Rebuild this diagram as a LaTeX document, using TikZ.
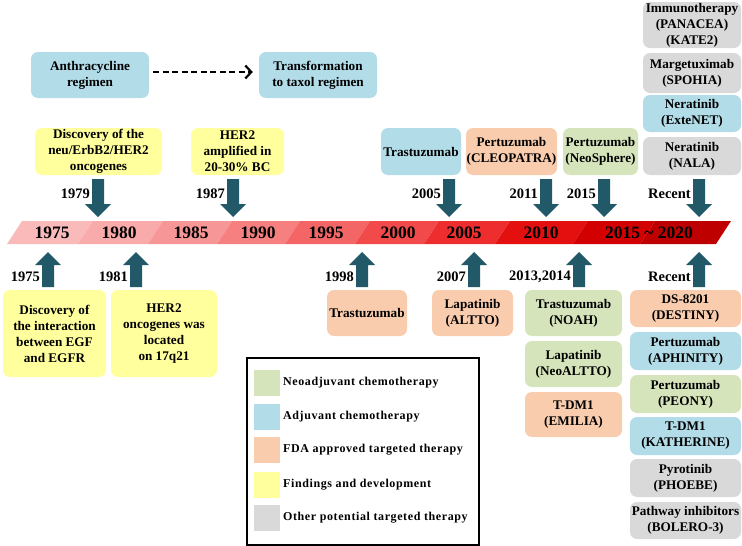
\documentclass[tikz,border=0pt]{standalone}
\usepackage{fontspec}
\setmainfont{Liberation Serif}
\newfontfamily\legfont[LetterSpace=5]{Liberation Serif}
\usetikzlibrary{arrows.meta}

\definecolor{boxblue}{RGB}{178,220,232}
\definecolor{boxyellow}{RGB}{255,255,158}
\definecolor{boxorange}{RGB}{249,204,174}
\definecolor{boxgreen}{RGB}{214,228,188}
\definecolor{boxgray}{RGB}{217,217,217}
\definecolor{arrowteal}{RGB}{33,89,104}
\definecolor{seg1}{RGB}{250,186,186}
\definecolor{seg2}{RGB}{249,170,170}
\definecolor{seg3}{RGB}{247,150,150}
\definecolor{seg4}{RGB}{246,128,128}
\definecolor{seg5}{RGB}{244,102,102}
\definecolor{seg6}{RGB}{242,74,74}
\definecolor{seg7}{RGB}{238,46,46}
\definecolor{seg8}{RGB}{228,16,16}
\definecolor{seg9}{RGB}{210,0,0}
\definecolor{seg10}{RGB}{190,0,0}

\begin{document}
\begin{tikzpicture}[x=1pt,y=-1pt,
  box/.style={rounded corners=7pt,align=center,inner sep=0pt,
    font=\fontsize{13.2}{16}\selectfont\bfseries},
  yearlbl/.style={inner sep=0pt,font=\fontsize{17.5}{20}\selectfont\bfseries},
  datelbl/.style={inner sep=0pt,anchor=east,font=\fontsize{14.5}{17}\selectfont\bfseries},
  legtext/.style={inner sep=0pt,anchor=west,font=\legfont\fontsize{12}{14}\selectfont\bfseries}]
  \useasboundingbox (0,0) rectangle (742,546);

  % top: regimen change
  \node[box,fill=boxblue,minimum width=118pt,minimum height=46pt] (anth) at (90,75) {Anthracycline\\regimen};
  \node[box,fill=boxblue,minimum width=118pt,minimum height=46pt] (taxol) at (318,75) {Transformation\\to taxol regimen};
  \draw[line width=2.2pt,dash pattern=on 6pt off 3.5pt,-{Straight Barb[length=6pt,width=13pt,line width=2.2pt]},
    shorten <=4pt,shorten >=6pt] ([yshift=3pt]anth.east) -- ([yshift=3pt]taxol.west);

  % boxes above the timeline
  \node[box,fill=boxyellow,minimum width=127pt,minimum height=47pt] (neu) at (98.5,151.5) {Discovery of the\\neu/ErbB2/HER2\\oncogenes};
  \node[box,fill=boxyellow,minimum width=93pt,minimum height=47pt] (ampl) at (237.5,151.5) {HER2\\amplified in\\20-30\% BC};
  \node[box,fill=boxblue,minimum width=80pt,minimum height=47pt] (trastA) at (421,151.5) {Trastuzumab};
  \node[box,fill=boxorange,minimum width=91pt,minimum height=47pt] (cleo) at (511.5,151.5) {Pertuzumab\\(CLEOPATRA)};
  \node[box,fill=boxgreen,minimum width=75pt,minimum height=47pt] (neosph) at (600.5,151.5) {Pertuzumab\\(NeoSphere)};
  \node[box,fill=boxgray,minimum width=98pt,minimum height=46pt] (immuno) at (692,25) {Immunotherapy\\(PANACEA)\\(KATE2)};
  \node[box,fill=boxgray,minimum width=98pt,minimum height=40pt] (marge) at (692,73) {Margetuximab\\(SPOHIA)};
  \node[box,fill=boxblue,minimum width=98pt,minimum height=37pt] (extenet) at (692,113.5) {Neratinib\\(ExteNET)};
  \node[box,fill=boxgray,minimum width=98pt,minimum height=38pt] (nala) at (692,156) {Neratinib\\(NALA)};

  % timeline band
  \foreach \a/\b [count=\i] in {7/78,78/148,148/217,217/285,285/355,355/424,424/495,495/573,573/640,640/716}
    \fill[seg\i] (\a,244) -- (\b,244) -- (\b+15,221) -- (\a+15,221) -- cycle;
  \foreach \x/\yr [count=\i] in {52/1975,119/1980,191/1985,258/1990,326/1995,398/2000,464/2005,541/2010}
    \node[yearlbl] (yr\i) at (\x,233) {\yr};
  \node[yearlbl] (yr9) at (649,233) {2015 \char"7E{} 2020};

  % arrows down to the timeline
  \foreach \x/\yr [count=\i] in {98/1979,233/1987,449/2005,546/2011,604/2015,699/Recent} {
    \fill[arrowteal] (\x-6,179) -- (\x+6,179) -- (\x+6,204) -- (\x+13,204) -- (\x,217) -- (\x-13,204) -- (\x-6,204) -- cycle;
    \node[datelbl] (dn\i) at (\x-8,194) {\yr};
  }
  % arrows up from the boxes
  \foreach \x/\yr [count=\i] in {48/1975,136/1981,362/1998,474/2007,579/{2013,2014},699/Recent} {
    \fill[arrowteal] (\x-6,287) -- (\x+6,287) -- (\x+6,265) -- (\x+13,265) -- (\x,252) -- (\x-13,265) -- (\x-6,265) -- cycle;
    \node[datelbl] (up\i) at (\x-8,277) {\yr};
  }

  % boxes below the timeline
  \node[box,fill=boxyellow,minimum width=103pt,minimum height=87pt] (egf) at (54.5,333.5) {Discovery of\\the interaction\\between EGF\\and EGFR};
  \node[box,fill=boxyellow,minimum width=106pt,minimum height=87pt] (loc) at (164,333.5) {HER2\\oncogenes was\\located\\on 17q21};
  \node[box,fill=boxorange,minimum width=80pt,minimum height=46pt] (trastB) at (367,313) {Trastuzumab};
  \node[box,fill=boxorange,minimum width=81pt,minimum height=46pt] (altto) at (472.5,313) {Lapatinib\\(ALTTO)};
  \node[box,fill=boxgreen,minimum width=97pt,minimum height=46pt] (noah) at (573.5,313) {Trastuzumab\\(NOAH)};
  \node[box,fill=boxgreen,minimum width=97pt,minimum height=46pt] (neoaltto) at (573.5,364) {Lapatinib\\(NeoALTTO)};
  \node[box,fill=boxorange,minimum width=97pt,minimum height=45pt] (emilia) at (573.5,414.5) {T-DM1\\(EMILIA)};
  \node[box,fill=boxorange,minimum width=111pt,minimum height=37pt] (destiny) at (685.5,308.5) {DS-8201\\(DESTINY)};
  \node[box,fill=boxblue,minimum width=111pt,minimum height=38pt] (aphinity) at (685.5,351) {Pertuzumab\\(APHINITY)};
  \node[box,fill=boxgreen,minimum width=111pt,minimum height=38pt] (peony) at (685.5,394) {Pertuzumab\\(PEONY)};
  \node[box,fill=boxblue,minimum width=111pt,minimum height=38pt] (katherine) at (685.5,436) {T-DM1\\(KATHERINE)};
  \node[box,fill=boxgray,minimum width=111pt,minimum height=38pt] (phoebe) at (685.5,478) {Pyrotinib\\(PHOEBE)};
  \node[box,fill=boxgray,minimum width=111pt,minimum height=37pt] (bolero) at (685.5,520.5) {Pathway inhibitors\\(BOLERO-3)};

  % legend
  \draw[line width=1.3pt] (247,358) rectangle (479,545);
  \foreach \y/\c/\t [count=\i] in {383/boxgreen/Neoadjuvant chemotherapy,416.5/boxblue/Adjuvant chemotherapy,
      450/boxorange/FDA approved targeted therapy,484.5/boxyellow/Findings and development,518/boxgray/Other potential targeted therapy} {
    \fill[\c] (254,\y-13) rectangle (280,\y+13);
    \node[legtext] (leg\i) at (283,\y) {\t};
  }
\end{tikzpicture}
\end{document}
